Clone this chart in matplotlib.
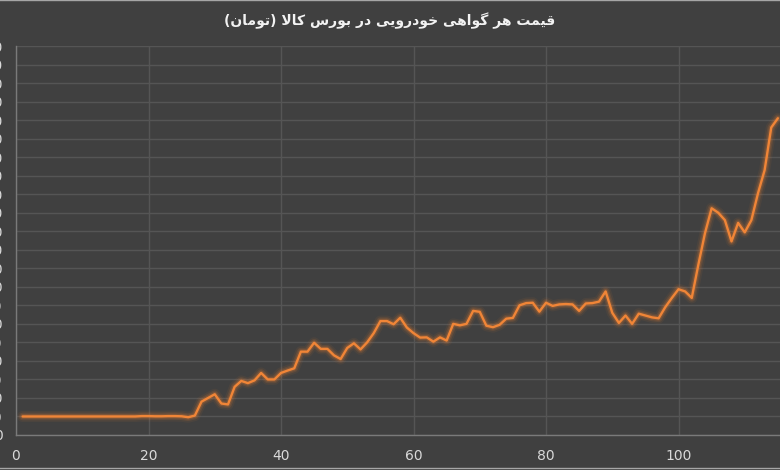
import matplotlib.pyplot as plt
import matplotlib.patheffects as pe
from matplotlib.lines import Line2D
import numpy as np

title = 'قیمت هر گواهی خودرویی در بورس کالا (تومان)'

# day index and price (million toman)
days = list(range(1, 116))
prices = [
    10.0, 10.0, 10.0, 10.0, 10.0, 10.0, 10.0, 10.0, 10.0, 10.0,
    10.0, 10.0, 10.0, 10.0, 10.0, 10.0, 10.0, 10.0, 10.2, 10.2,
    10.1, 10.1, 10.2, 10.2, 10.1, 9.6, 10.5, 18.0, 20.0, 22.0,
    17.0, 16.5, 26.0, 29.2, 28.0, 29.5, 33.5, 30.0, 30.0, 33.5,
    34.8, 36.0, 45.0, 45.0, 49.8, 46.5, 46.5, 43.0, 41.0, 47.0,
    49.5, 46.2, 50.0, 55.0, 61.5, 61.5, 59.8, 63.3, 58.0, 55.0,
    52.6, 52.7, 50.4, 52.7, 51.0, 60.0, 59.2, 60.0, 67.0, 66.5,
    59.0, 58.2, 59.5, 62.8, 63.2, 70.0, 71.2, 71.4, 66.6, 71.4,
    69.7, 70.5, 70.7, 70.5, 67.0, 71.0, 71.2, 72.0, 77.5, 66.0,
    60.5, 64.5, 60.0, 65.5, 64.5, 63.5, 63.0, 69.0, 74.0, 78.7,
    77.5, 74.0, 92.0, 109.0, 122.4, 120.0, 116.0, 104.5, 114.5, 109.4,
    116.0, 130.5, 143.0, 166.0, 171.0,
]
y_ticks = list(range(0, 211, 10))
x_ticks = [0, 20, 40, 60, 80, 100]

# simple Persian shaping (matplotlib has no text layout for Arabic script)
FORMS = {
    'ا': ('\uFE8D', '\uFE8E', None, None),
    'ب': ('\uFE8F', '\uFE90', '\uFE91', '\uFE92'),
    'ت': ('\uFE95', '\uFE96', '\uFE97', '\uFE98'),
    'خ': ('\uFEA5', '\uFEA6', '\uFEA7', '\uFEA8'),
    'د': ('\uFEA9', '\uFEAA', None, None),
    'ر': ('\uFEAD', '\uFEAE', None, None),
    'س': ('\uFEB1', '\uFEB2', '\uFEB3', '\uFEB4'),
    'ق': ('\uFED5', '\uFED6', '\uFED7', '\uFED8'),
    'ل': ('\uFEDD', '\uFEDE', '\uFEDF', '\uFEE0'),
    'م': ('\uFEE1', '\uFEE2', '\uFEE3', '\uFEE4'),
    'ن': ('\uFEE5', '\uFEE6', '\uFEE7', '\uFEE8'),
    'ه': ('\uFEE9', '\uFEEA', '\uFEEB', '\uFEEC'),
    'و': ('\uFEED', '\uFEEE', None, None),
    'ی': ('\uFBFC', '\uFBFD', '\uFBFE', '\uFBFF'),
    'ک': ('\uFB8E', '\uFB8F', '\uFB90', '\uFB91'),
    'گ': ('\uFB92', '\uFB93', '\uFB94', '\uFB95'),
    'لا': ('\uFEFB', '\uFEFC', None, None),
}
NON_JOIN = {'ا', 'د', 'ر', 'و', 'لا'}


def shape(text):
    tokens = []
    i = 0
    while i < len(text):
        if text[i:i + 2] == 'لا':
            tokens.append('لا')
            i += 2
        else:
            tokens.append(text[i])
            i += 1
    out = []
    for k, t in enumerate(tokens):
        if t not in FORMS:
            out.append({'(': ')', ')': '('}.get(t, t))
            continue
        prev = tokens[k - 1] if k > 0 else ''
        nxt = tokens[k + 1] if k + 1 < len(tokens) else ''
        jp = prev in FORMS and prev not in NON_JOIN
        jn = t not in NON_JOIN and nxt in FORMS
        iso, fin, ini, med = FORMS[t]
        if jp and jn:
            out.append(med)
        elif jp:
            out.append(fin)
        elif jn:
            out.append(ini)
        else:
            out.append(iso)
    return ''.join(reversed(out))


bg = '#404040'
orange = '#F08537'
txt = '#D9D9D9'

fig = plt.figure(figsize=(7.8, 4.7), dpi=100, facecolor=bg)
ax = fig.add_axes([16 / 780, 35 / 470, 764 / 780, 389 / 470], facecolor=bg)

ax.plot(days, prices, color=orange, lw=1.7, solid_capstyle='round', solid_joinstyle='round',
        path_effects=[pe.Stroke(linewidth=8, foreground='#E07A30', alpha=0.07),
                      pe.Stroke(linewidth=5.5, foreground='#E07A30', alpha=0.14),
                      pe.Stroke(linewidth=3.5, foreground='#E07A30', alpha=0.24),
                      pe.Normal()])

ax.set_xlim(0, 764 / 6.625)
ax.set_ylim(0, 210)
ax.set_xticks(x_ticks)
ax.set_yticks(y_ticks)
ax.grid(True, color='#555555', lw=1)
ax.set_axisbelow(True)
for s in ['top', 'right']:
    ax.spines[s].set_visible(False)
for s in ['left', 'bottom']:
    ax.spines[s].set_color('#7A7A7A')
    ax.spines[s].set_linewidth(1)
ax.tick_params(axis='x', length=0, pad=10, labelcolor=txt, labelsize=10)
ax.tick_params(axis='y', length=0, pad=9.7, labelcolor=txt, labelsize=10)

fig.text(0.5, 1 - 21 / 470, shape(title), ha='center', va='center', color='#F2F2F2',
         fontsize=10, fontweight='bold', family=['DejaVu Sans'])

fig.add_artist(Line2D([0, 1], [0.999, 0.999], color='#A6A6A6', lw=1, transform=fig.transFigure))
fig.add_artist(Line2D([0, 1], [2 / 470, 2 / 470], color='#A6A6A6', lw=1, transform=fig.transFigure))

fig.savefig('out.png', dpi=100, facecolor=bg)
